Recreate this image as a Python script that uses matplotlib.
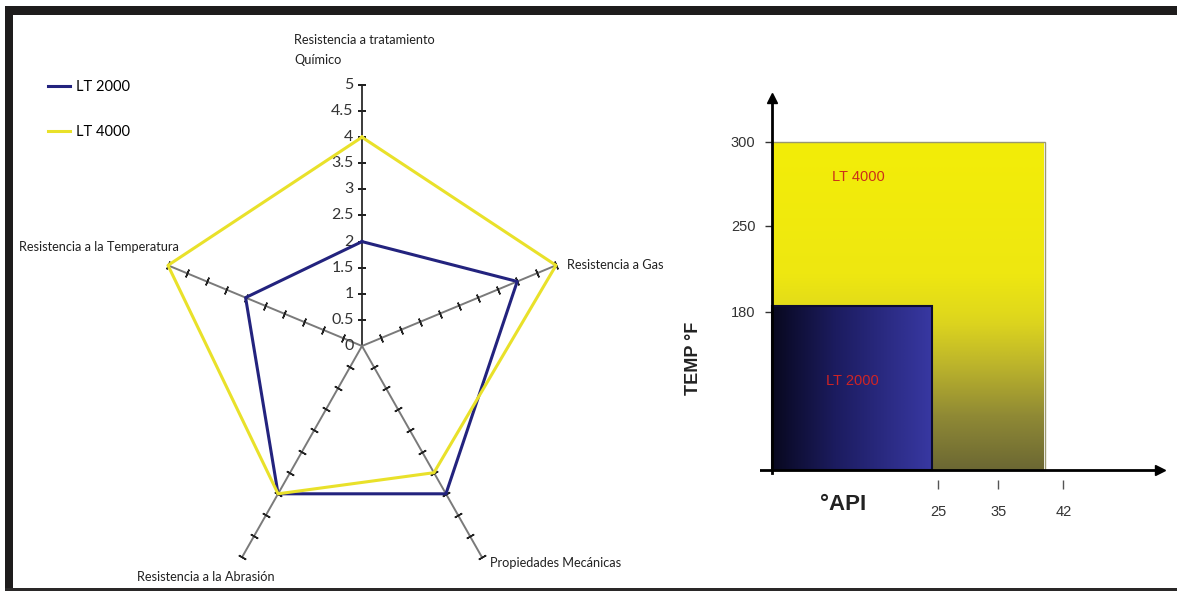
import numpy as np
import matplotlib
matplotlib.use("Agg")
import matplotlib.pyplot as plt
from matplotlib.colors import LinearSegmentedColormap
from matplotlib.patches import Rectangle

plt.rcParams['font.family'] = ['Lato', 'DejaVu Sans']

# Radar: propiedades de cada recubrimiento (escala 0-5)
categorias = ['Resistencia a tratamiento\nQuímico', 'Resistencia a Gas',
              'Propiedades Mecánicas', 'Resistencia a la Abrasión',
              'Resistencia a la Temperatura']
lt2000 = [2, 4, 3.5, 3.5, 3]
lt4000 = [4, 5, 3, 3.5, 5]
escala = np.arange(0, 5.01, 0.5)

# Rango de operación: °API y temperatura máxima
api_ticks = [25, 35, 42]
temp_ticks = [180, 250, 300]
lt2000_api, lt2000_temp = 24, 185
lt4000_api, lt4000_temp = 40, 300

# Escalas esquemáticas (no lineales) del diagrama de rango
api_knots = [-10, 0, 25, 35, 42, 60]
api_pos = [-66.4, 0, 166, 226, 291, 458.1]
temp_knots = [-50, 0, 180, 250, 300, 400]
temp_pos = [-43.9, 0, 158, 244, 328, 496]

AZUL = '#23237e'
AMARILLO = '#e9e12a'

W, H = 1177, 591
fig = plt.figure(figsize=(W / 100, H / 100), dpi=100)
fig.patch.set_facecolor('white')

# marco negro
fig.add_artist(Rectangle((5 / W, 1 - 15 / H), 1 - 5 / W, 9 / H, transform=fig.transFigure,
                         color='#1e1c1c', lw=0))
fig.add_artist(Rectangle((5 / W, 0), 8 / W, 1 - 6 / H, transform=fig.transFigure,
                         color='#1e1c1c', lw=0))
fig.add_artist(Rectangle((5 / W, 0), 1 - 5 / W, 3 / H, transform=fig.transFigure,
                         color='#2a2828', lw=0))

# ---------------- radar ----------------
cx, cy = 362, 245
sx, sy = 40.8, 52.2
xl = ((15 - cx) / sx, (700 - cx) / sx)
yl = ((5 - cy) / sy, (580 - cy) / sy)
ax = fig.add_axes([15 / W, 5 / H, 685 / W, 575 / H])
ax.set_xlim(*xl)
ax.set_ylim(*yl)
ax.axis('off')

n = len(categorias)
ang = np.deg2rad(90 - 72 * np.arange(n))

for k in range(n):
    xs = escala * np.cos(ang[k])
    ys = escala * np.sin(ang[k])
    col = '#3a3a3a' if k == 0 else '#7a7a7a'
    ax.plot([0, xs[-1]], [0, ys[-1]], color=col, lw=1.4, zorder=1)
    # marcas perpendiculares al eje
    phi = np.degrees(np.arctan2(np.sin(ang[k]) * sy, np.cos(ang[k]) * sx))
    ax.plot(xs[1:], ys[1:], ls='none', marker=(2, 2, phi), ms=6, mew=1.1,
            color='#222222', zorder=2)

for v in escala:
    ax.annotate(f'{v:g}', xy=(0, v), xytext=(-6, 0), textcoords='offset points',
                ha='right', va='center', fontsize=11.5, color='#333333')

for serie, color, nombre in [(lt2000, AZUL, 'LT 2000'), (lt4000, AMARILLO, 'LT 4000')]:
    r = np.append(serie, serie[0])
    a = np.append(ang, ang[0])
    ax.plot(r * np.cos(a), r * np.sin(a), color=color, lw=2.2, label=nombre, zorder=3)

etiquetas = [((-49, 14), 'left', 'bottom'),
             ((8, 0), 'left', 'center'),
             ((6, -4), 'left', 'center'),
             ((-26, -14), 'center', 'center'),
             ((8, 13), 'right', 'center')]
for k, (off, ha, va) in enumerate(etiquetas):
    ax.annotate(categorias[k], xy=(5 * np.cos(ang[k]), 5 * np.sin(ang[k])),
                xytext=off, textcoords='offset points', ha=ha, va=va,
                fontsize=9.2, color='#222222', linespacing=1.8)

ax.legend(loc='upper left', bbox_to_anchor=(48 / W, 1 - 80 / H),
          bbox_transform=fig.transFigure, frameon=False, fontsize=10.5,
          handlelength=1.5, handletextpad=0.4, labelspacing=2.1,
          borderpad=0, borderaxespad=0)

# ---------------- rango de operación ----------------
def escala_fn(knots, pos):
    fwd = lambda v: np.interp(v, knots, pos)
    inv = lambda p: np.interp(p, pos, knots)
    return fwd, inv

bx = fig.add_axes([760 / W, 118.4 / H, 400 / W, 374.6 / H])
bx.set_xscale('function', functions=escala_fn(api_knots, api_pos))
bx.set_yscale('function', functions=escala_fn(temp_knots, temp_pos))

cm_amar = LinearSegmentedColormap.from_list(
    'amar', [(0, '#f3ed08'), (0.3, '#eee711'), (0.45, '#dbd31f'),
             (0.6, '#bdb52b'), (0.8, '#8f8935'), (1, '#6c6833')])
cm_azul = LinearSegmentedColormap.from_list(
    'azul', [(0, '#08081f'), (0.4, '#1c1c60'), (1, '#3838a2')])

bx.imshow(np.linspace(0, 1, 256).reshape(-1, 1), cmap=cm_amar, aspect='auto',
          extent=[0, lt4000_api, 0, lt4000_temp], origin='upper',
          interpolation='bilinear', zorder=1)
bx.add_patch(Rectangle((0, 0), lt4000_api, lt4000_temp, fill=False,
                       ec='#9a9870', lw=1, zorder=2))
bx.imshow(np.linspace(0, 1, 256).reshape(1, -1), cmap=cm_azul, aspect='auto',
          extent=[0, lt2000_api, 0, lt2000_temp], origin='upper',
          interpolation='bilinear', zorder=3)
bx.add_patch(Rectangle((0, 0), lt2000_api, lt2000_temp, fill=False,
                       ec='#0c0c30', lw=1.5, zorder=4))

bx.text(9, 279, 'LT 4000', color='#cc3018', fontsize=10.5,
        family='Liberation Sans', va='center', zorder=5)
bx.text(8.2, 101, 'LT 2000', color='#d02424', fontsize=10.5,
        family='Liberation Sans', va='center', zorder=5)

bx.set_xlim(-1.8, 52.4)
bx.set_ylim(-3, 326)
bx.set_facecolor('none')

for s in ['top', 'right']:
    bx.spines[s].set_visible(False)
bx.spines['left'].set_position(('data', 0))
bx.spines['left'].set_linewidth(2)
bx.spines['left'].set_zorder(6)
bx.spines['bottom'].set_position(('outward', 5.5))
bx.spines['bottom'].set_visible(False)
bx.axhline(0, color='black', lw=2, zorder=6)
bx.plot([0], [326], marker='^', ms=7, color='black', clip_on=False, zorder=7)
bx.plot([52.4], [0], marker='>', ms=7, color='black', clip_on=False, zorder=7)

bx.set_yticks(temp_ticks)
bx.set_xticks(api_ticks)
bx.set_yticklabels([str(t) for t in temp_ticks])
bx.set_xticklabels([str(t) for t in api_ticks])
bx.tick_params(axis='y', direction='out', length=5, width=1, pad=7,
               labelsize=10.5, labelcolor='#333333', color='#333333')
bx.tick_params(axis='x', direction='out', length=6.5, width=1, pad=11,
               labelsize=10.5, labelcolor='#333333', color='#555555')
for lab in bx.get_xticklabels() + bx.get_yticklabels():
    lab.set_family('Liberation Sans')

bx.set_xlabel('°API', fontsize=16, fontweight='bold', family='Liberation Sans',
              color='#222222')
bx.xaxis.set_label_coords(0.2075, -0.058)
bx.set_ylabel('TEMP °F', fontsize=13, fontweight='bold', family='Liberation Sans',
              color='#222222')
bx.yaxis.set_label_coords(-0.1675, 0.306)
bx.yaxis.label.set_va('center')

fig.savefig('out.png', dpi=100, facecolor='white')
